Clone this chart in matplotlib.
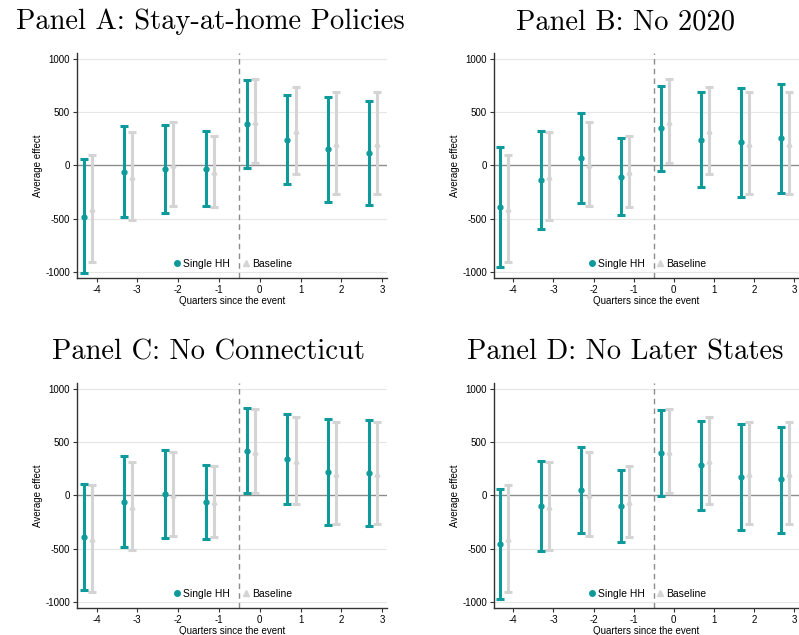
import numpy as np
import matplotlib.pyplot as plt
from matplotlib.lines import Line2D

plt.rcParams['font.family'] = ['Liberation Sans', 'DejaVu Sans']

# quarters since the event
quarters = [-4, -3, -2, -1, 0, 1, 2, 3]

# baseline (same in every panel)
base_pt = [-414, -107, 5, -66, 408, 326, 201, 201]
base_lo = [-912, -517, -382, -395, 22, -78, -270, -270]
base_hi = [94, 310, 411, 276, 809, 740, 687, 687]

titles = ['Panel A: Stay-at-home Policies', 'Panel B: No 2020',
          'Panel C: No Connecticut', 'Panel D: No Later States']

# single HH estimates per panel
single_pt = [
    [-483, -60, -38, -31, 389, 238, 154, 113],
    [-394, -141, 72, -106, 347, 241, 219, 256],
    [-395, -60, 13, -66, 417, 342, 216, 213],
    [-456, -103, 53, -103, 399, 284, 172, 150],
]
single_lo = [
    [-1010, -486, -451, -379, -22, -179, -345, -373],
    [-959, -597, -350, -466, -56, -206, -294, -256],
    [-887, -483, -398, -414, 19, -78, -282, -285],
    [-973, -527, -353, -440, -6, -134, -328, -349],
]
single_hi = [
    [56, 370, 379, 320, 806, 658, 646, 602],
    [172, 319, 494, 253, 741, 688, 731, 766],
    [103, 367, 426, 282, 821, 765, 715, 705],
    [59, 321, 456, 237, 805, 702, 671, 643],
]

teal = '#0e9a9a'
gray = '#d4d4d4'

W, H = 799, 635
fig = plt.figure(figsize=(W / 100, H / 100), dpi=100)

# axes boxes in pixels: left, right, top, bottom
boxes = [(77, 387, 53, 278), (494, 799, 53, 278),
         (77, 387, 383, 608), (494, 799, 383, 608)]
title_pos = [(210, 22), (625, 22), (208, 352), (625, 352)]

x = np.array(quarters, dtype=float)

for i in range(4):
    l, r, t, b = boxes[i]
    ax = fig.add_axes([l / W, 1 - b / H, (r - l) / W, (b - t) / H])

    for v in [-1000, -500, 500, 1000]:
        ax.axhline(v, color='#e6e6e6', lw=0.8, zorder=0)
    ax.axhline(0, color='#8c8c8c', lw=1.0, zorder=1)
    ax.axvline(-0.5, color='#8c8c8c', lw=1.0, ls=(0, (4, 3)), zorder=1)

    bp = np.array(base_pt)
    ax.errorbar(x - 0.12, bp, yerr=[bp - np.array(base_lo), np.array(base_hi) - bp],
                fmt='^', color=gray, ms=3.5, elinewidth=2.2, capsize=3.2, capthick=2.2,
                zorder=2)
    sp = np.array(single_pt[i])
    ax.errorbar(x - 0.32, sp, yerr=[sp - np.array(single_lo[i]), np.array(single_hi[i]) - sp],
                fmt='o', color=teal, ms=3.5, elinewidth=2.2, capsize=3.2, capthick=2.2,
                zorder=3)

    ax.set_xlim(-4.48, 3.12)
    ax.set_ylim(-1058, 1055)
    ax.set_xticks(quarters)
    ax.set_yticks([-1000, -500, 0, 500, 1000])
    ax.set_yticklabels(['-1000', '-500', '0', '500', '1000'])
    ax.set_xticklabels([str(q) if q >= 0 else '-' + str(-q) for q in quarters])
    ax.tick_params(labelsize=7, length=3, width=0.8, color='#333333', pad=2)
    ax.set_xlabel('Quarters since the event', fontsize=7, labelpad=1)
    ax.set_ylabel('Average effect', fontsize=7, labelpad=2)
    for s in ['top', 'right']:
        ax.spines[s].set_visible(False)
    for s in ['left', 'bottom']:
        ax.spines[s].set_color('#333333')
        ax.spines[s].set_linewidth(1.0)

    h = [Line2D([], [], ls='none', marker='o', color=teal, ms=4),
         Line2D([], [], ls='none', marker='^', color=gray, ms=4.5)]
    ax.legend(h, ['Single HH', 'Baseline'], loc='lower center', bbox_to_anchor=(0.5, 0.0),
              ncol=2, frameon=False, fontsize=7.5, handletextpad=0.1, columnspacing=1.0,
              handlelength=1.0)

    tx, ty = title_pos[i]
    fig.text(tx / W, 1 - ty / H, titles[i], fontsize=20.5, family='cmr10',
             ha='center', va='center')

fig.savefig('out.png', dpi=100)
